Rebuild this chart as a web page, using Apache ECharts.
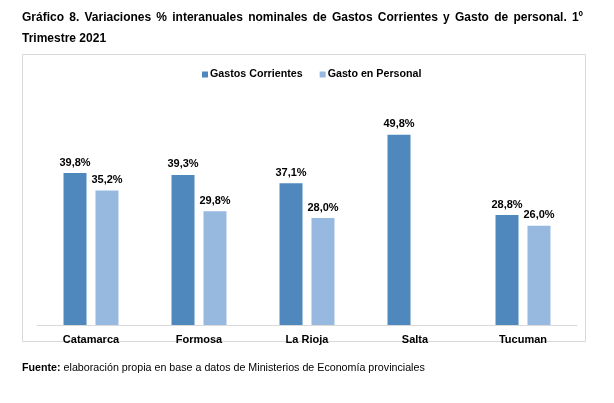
<!DOCTYPE html>
<html>
<head>
<meta charset="utf-8">
<script src="https://cdn.jsdelivr.net/npm/echarts@6/dist/echarts.min.js"></script>
<style>
  body { margin:0; background:#fff; font-family:"Liberation Sans", Arial, sans-serif; }
  #wrap { position:relative; width:614px; height:403px; }
  #main { position:absolute; left:0; top:0; width:614px; height:403px; }
  .ttl { position:absolute; left:22px; width:561px; font-size:12px; font-weight:bold; color:#000; }
  #t1 { top:10px; text-align:justify; text-align-last:justify; white-space:nowrap; }
  #t2 { top:31px; }
  #src { position:absolute; left:22px; top:361px; font-size:10.7px; color:#000; }
</style>
</head>
<body>
<div id="wrap">
  <div id="main"></div>
  <div class="ttl" id="t1">Gráfico 8. Variaciones % interanuales nominales de Gastos Corrientes y Gasto de personal. 1º</div>
  <div class="ttl" id="t2">Trimestre 2021</div>
  <div id="src"><b>Fuente:</b> elaboración propia en base a datos de Ministerios de Economía provinciales</div>
</div>
<script>
// datos del gráfico
var provincias = ['Catamarca', 'Formosa', 'La Rioja', 'Salta', 'Tucuman'];
var gastosCorrientes = [39.8, 39.3, 37.1, 49.8, 28.8];
var gastoPersonal = [35.2, 29.8, 28.0, null, 26.0];

var myChart = echarts.init(document.getElementById('main'));

function pct(p) {
    return p.value.toFixed(1).replace('.', ',') + '%';
}

var etiqueta = {
    show: true,
    position: 'top',
    distance: 5,
    color: '#000',
    fontWeight: 'bold',
    fontSize: 11,
    fontFamily: 'Liberation Sans',
    formatter: pct
};

var option = {
    animation: false,
    graphic: [{
        type: 'rect',
        shape: { x: 22.5, y: 54.5, width: 563, height: 287 },
        style: { fill: 'none', stroke: '#d9d9d9', lineWidth: 1 },
        silent: true
    }],
    legend: {
        data: ['Gastos Corrientes', 'Gasto en Personal'],
        top: 64,
        left: 197,
        icon: 'rect',
        itemWidth: 6,
        itemHeight: 6,
        itemGap: 17,
        textStyle: { color: '#000', fontWeight: 'bold', fontSize: 10.7, fontFamily: 'Liberation Sans', padding: [0, 0, 0, -3] }
    },
    grid: { left: 37, right: 37, top: 115, bottom: 78 },
    xAxis: {
        type: 'category',
        data: provincias,
        axisLine: { lineStyle: { color: '#d9d9d9', width: 1 } },
        axisTick: { show: false },
        axisLabel: { color: '#000', fontWeight: 'bold', fontSize: 11, fontFamily: 'Liberation Sans', margin: 9 }
    },
    yAxis: {
        type: 'value',
        min: 0,
        max: 55,
        show: false,
        splitLine: { show: false }
    },
    series: [{
        name: 'Gastos Corrientes',
        type: 'bar',
        data: gastosCorrientes,
        barWidth: 23,
        barGap: '39%',
        itemStyle: { color: '#4f88bd' },
        label: etiqueta
    }, {
        name: 'Gasto en Personal',
        type: 'bar',
        data: gastoPersonal,
        barWidth: 23,
        itemStyle: { color: '#98b9df' },
        label: etiqueta
    }]
};
myChart.setOption(option);
</script>
</body>
</html>
